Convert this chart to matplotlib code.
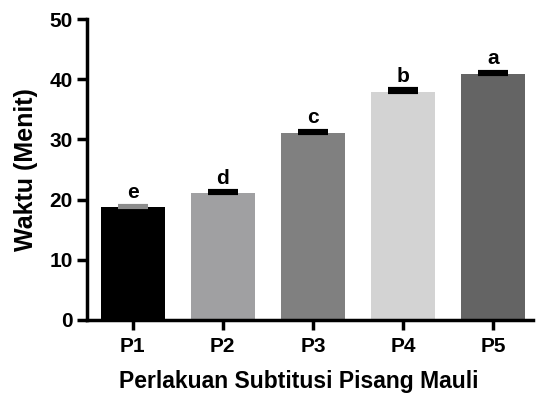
import matplotlib.pyplot as plt

plt.rcParams['font.family'] = ['Liberation Sans', 'DejaVu Sans']
plt.rcParams['font.weight'] = 'bold'

labels = ['P1', 'P2', 'P3', 'P4', 'P5']
waktu = [18.7, 21.1, 31.0, 37.8, 40.9]
sem = [0.3, 0.3, 0.4, 0.5, 0.3]
notasi = ['e', 'd', 'c', 'b', 'a']
warna = ['#000000', '#a0a0a2', '#808080', '#d3d3d3', '#646464']
warna_err = ['#8c8c8c', '#000000', '#000000', '#000000', '#000000']

fig = plt.figure(figsize=(5.36, 3.96), dpi=100)
ax = fig.add_axes([0.162, 0.192, 0.832, 0.760])

x = list(range(len(labels)))
ax.bar(x, waktu, width=0.71, color=warna, zorder=2)
for i in x:
    ax.errorbar(i, waktu[i], yerr=[[0], [sem[i]]], fmt='none',
                ecolor=warna_err[i], elinewidth=2, capsize=11, capthick=3, zorder=3)
    ax.text(i, waktu[i] + sem[i] + 0.6, notasi[i], ha='center', va='bottom',
            fontsize=15, fontweight='bold')

ax.set_xlim(-0.51, 4.44)
ax.set_ylim(0, 50)
ax.set_yticks([0, 10, 20, 30, 40, 50])
ax.set_xticks(x)
ax.set_xticklabels(labels)

for s in ['top', 'right']:
    ax.spines[s].set_visible(False)
for s in ['left', 'bottom']:
    ax.spines[s].set_linewidth(2.5)
ax.tick_params(axis='both', width=2.5, length=7, labelsize=15)
ax.tick_params(axis='x', pad=5)
ax.tick_params(axis='y', pad=3)

ax.set_ylabel('Waktu (Menit)', fontsize=18, fontweight='bold', labelpad=8)
ax.set_xlabel('Perlakuan Subtitusi Pisang Mauli', fontsize=16.5, fontweight='bold')
ax.xaxis.set_label_coords(0.475, -0.165)

fig.savefig('out.png', dpi=100)
